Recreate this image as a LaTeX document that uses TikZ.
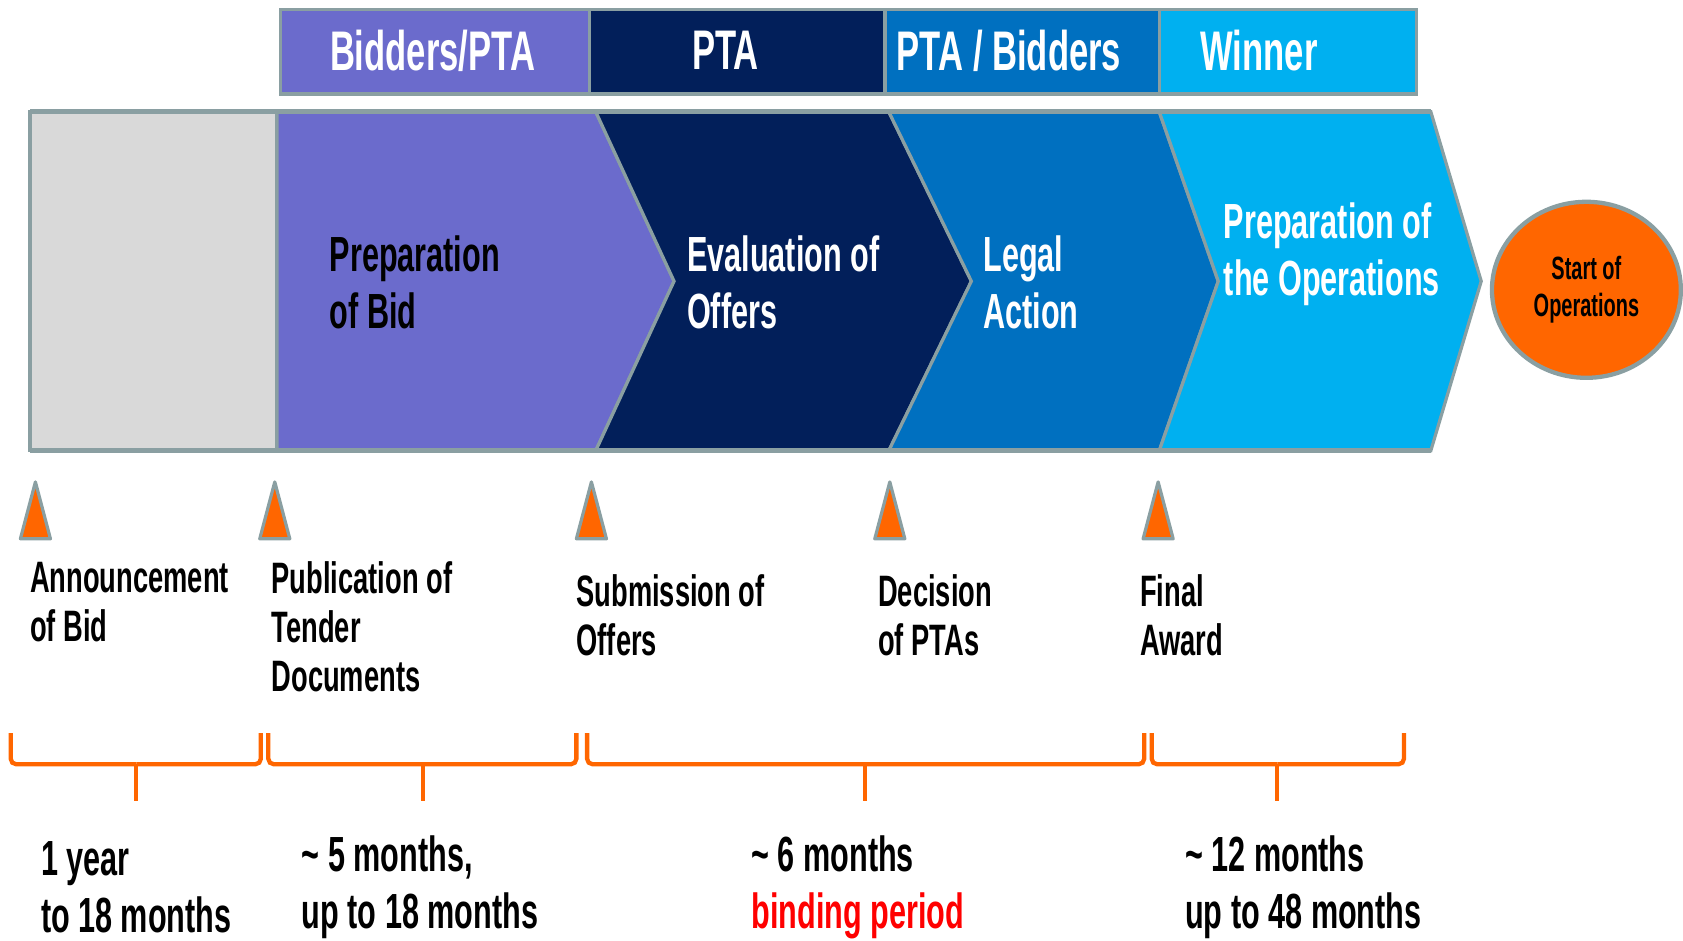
\documentclass[tikz,border=0pt]{standalone}
\usepackage{fontspec}
\usetikzlibrary{shapes.geometric}
\setmainfont{Liberation Sans}[FakeStretch=0.62]
\definecolor{edge}{HTML}{8A9FA2}
\definecolor{lilac}{HTML}{6B6BCC}
\definecolor{navy}{HTML}{021F5A}
\definecolor{midblue}{HTML}{0070C0}
\definecolor{skyblue}{HTML}{00B0F0}
\definecolor{orng}{HTML}{FF6600}
\definecolor{greybox}{HTML}{D9D9D9}
\tikzset{
  rolebox/.style={draw=edge, line width=3pt, minimum height=79pt, inner sep=0pt, anchor=north west},
  roletext/.style={font=\bfseries\fontsize{52}{56}\selectfont, text=white, inner sep=0pt},
  phase/.style={draw=edge, line width=3pt, line join=miter},
  phasetext/.style={font=\bfseries\fontsize{46}{53}\selectfont, align=left, anchor=west, inner sep=0pt},
  milestone/.style={font=\bfseries\fontsize{41}{46}\selectfont, align=left, anchor=west, inner sep=0pt},
  span/.style={font=\bfseries\fontsize{46}{53}\selectfont, align=left, anchor=west, inner sep=0pt},
  marker/.style={fill=orng, draw=edge, line width=3pt, line join=round},
  brace/.style={draw=orng, line width=4pt, rounded corners=5pt},
}
\begin{document}
\begin{tikzpicture}[x=1pt, y=-1pt]
\useasboundingbox (0,0) rectangle (1568,876);

% responsibility bar
\node[rolebox, fill=lilac, minimum width=288pt] (r1) at (260,7) {};
\node[rolebox, fill=navy, minimum width=275pt] (r2) at (548,7) {};
\node[rolebox, fill=midblue, minimum width=256pt] (r3) at (823,7) {};
\node[rolebox, fill=skyblue, minimum width=239pt] (r4) at (1079,7) {};
\node[roletext] (t1) at (403,47) {Bidders/PTA};
\node[roletext] (t2) at (676,47) {PTA};
\node[roletext] (t3) at (940,47) {PTA / Bidders};
\node[roletext] (t4) at (1173,47) {Winner};

% phase band
\filldraw[phase, fill=greybox] (28,104) rectangle (258,420);
\filldraw[phase, fill=lilac] (258,104) -- (555,104) -- (628,262) -- (555,420) -- (258,420) -- cycle;
\filldraw[phase, fill=navy] (555,104) -- (828,104) -- (905,262) -- (828,420) -- (555,420) -- (628,262) -- cycle;
\filldraw[phase, fill=midblue] (828,104) -- (1080,104) -- (1135,262) -- (1080,420) -- (828,420) -- (905,262) -- cycle;
\filldraw[phase, fill=skyblue] (1080,104) -- (1333,104) -- (1380,262) -- (1333,420) -- (1080,420) -- (1135,262) -- cycle;
\draw[edge, line width=5pt] (28,104) -- (1333,104);
\draw[edge, line width=5pt] (28,420) -- (1333,420);

\node[phasetext] (p1) at (307,263) {Preparation\\of Bid};
\node[phasetext, text=white] (p2) at (640,263) {Evaluation of\\Offers};
\node[phasetext, text=white] (p3) at (916,263) {Legal\\Action};
\node[phasetext, text=white] (p4) at (1140,237) {Preparation of\\the Operations};

% start of operations
\node[ellipse, draw=edge, line width=4pt, fill=orng, minimum width=176pt, minimum height=164pt, inner sep=0pt,
      font=\bfseries\fontsize{30}{35}\selectfont, align=center] (ops) at (1478,270) {Start of\\Operations};

% milestones
\foreach \x/\n in {33/m1, 256/m2, 551/m3, 829/m4, 1079/m5}
  \filldraw[marker] (\x-14,502) -- (\x,449) -- (\x+14,502) -- cycle;

\node[milestone] (l1) at (28,561) {Announcement\\of Bid};
\node[milestone] (l2) at (253,584) {Publication of\\Tender\\Documents};
\node[milestone] (l3) at (537,573) {Submission of\\Offers};
\node[milestone] (l4) at (818,573) {Decision\\of PTAs};
\node[milestone] (l5) at (1062,573) {Final\\Award};

% durations
\foreach \a/\m/\b in {10/127/243, 250/394/537, 547/806/1066, 1073/1190/1308} {
  \draw[brace] (\a,683) |- (\m,712);
  \draw[brace] (\b,683) |- (\m,712);
  \draw[orng, line width=4pt] (\m,712) -- (\m,746);
}

\node[span] (d1) at (38,827) {1 year\\to 18 months};
\node[span] (d2) at (281,827) {\textasciitilde\ 5 months,\\up to 18 months};
\node[span] (d3) at (700,827) {\textasciitilde\ 6 months\\\textcolor{red}{binding period}};
\node[span] (d4) at (1104,827) {\textasciitilde\ 12 months\\up to 48 months};
\end{tikzpicture}
\end{document}
